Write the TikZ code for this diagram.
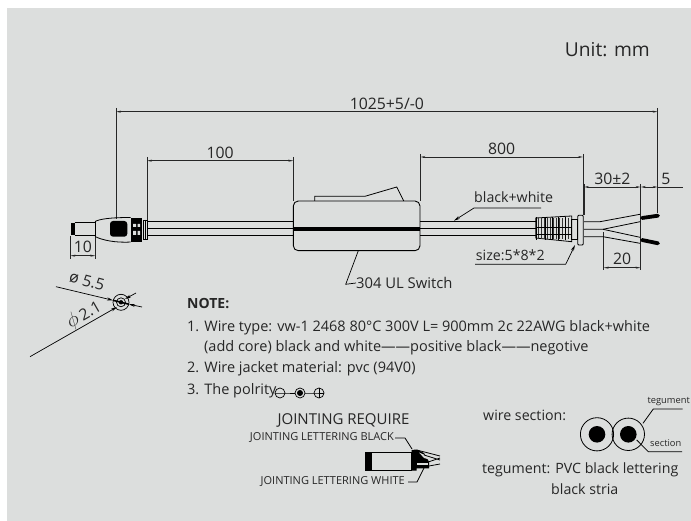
\documentclass[tikz,border=0pt]{standalone}
\usepackage{fontspec}
\setmainfont{Open Sans}
\usetikzlibrary{arrows.meta}
\definecolor{panelgray}{HTML}{DCDEDD}
\definecolor{inkgray}{HTML}{262626}
\tikzset{
  dimline/.style={inkgray,line width=.7pt,{Stealth[length=5pt,width=2pt]}-{Stealth[length=5pt,width=2pt]}},
  extline/.style={inkgray,line width=.8pt},
  wireline/.style={black,line width=.8pt},
  leader/.style={black,line width=.7pt,-{Stealth[length=6pt,width=3pt]}},
  txt/.style={inkgray,inner sep=0pt,font=\fontsize{14.2}{16}\selectfont},
  dimtxt/.style={inkgray,inner sep=0pt,font=\fontsize{15.8}{18}\selectfont},
  tiptxt/.style={inkgray,inner sep=0pt,font=\fontsize{9.3}{11}\selectfont}
}
\begin{document}
\begin{tikzpicture}[x=1pt,y=-1pt]
  \useasboundingbox (0,0) rectangle (691,521);
  \fill[panelgray] (7,8) rectangle (691,521);

  \coordinate (Ltop) at (116,108);   \coordinate (Lbot) at (116,219);
  \coordinate (Rtop) at (657.7,108); \coordinate (Rbot) at (657.7,213);
  \coordinate (Al) at (116,111.7);   \coordinate (Ar) at (657.7,111.7);
  \coordinate (Bl) at (147,160.7);   \coordinate (Br) at (293.3,160.7);
  \coordinate (Cl) at (420.3,157);   \coordinate (Cr) at (583,157);
  \coordinate (Dl) at (584,187);     \coordinate (Dr) at (640.7,187);
  \coordinate (E) at (657.7,187);    \coordinate (Eend) at (683,187);
  \coordinate (Fl) at (603.7,267.7); \coordinate (Fr) at (640.7,267.7);
  \coordinate (Gl) at (70.3,255.7);  \coordinate (Gr) at (95.3,255.7);

  \draw[extline] (Ltop) -- (Lbot);
  \draw[extline] (Rtop) -- (Rbot);
  \draw[extline] (147,157) -- (147,220);
  \draw[extline] (293.3,157) -- (293.3,201);
  \draw[extline] (420.3,154) -- (420.3,201);
  \draw[extline] (583,154) -- (583,215);
  \draw[extline] (584,184) -- (584,215);
  \draw[extline] (640.7,184) -- (640.7,270);
  \draw[extline] (603.7,232) -- (603.7,270);
  \draw[extline] (70.3,236) -- (70.3,259);
  \draw[extline] (95.3,236) -- (95.3,259);

  \draw[dimline] (Al) -- node[dimtxt,above=2pt] (lenall) {1025+5/-0} (Ar);
  \draw[dimline] (Bl) -- node[dimtxt,above=2pt] (lenplug) {100} (Br);
  \draw[dimline] (Cl) -- node[dimtxt,above=2pt] (lencord) {800} (Cr);
  \draw[dimline] (Dl) -- node[dimtxt,above=2pt] (lenstrip) {30±2} (Dr);
  \draw[dimline] (Dr) -- (E);
  \draw[extline] (E) -- (Eend);
  \node[dimtxt] (lentip) at (666,178.5) {5};
  \draw[dimline] (Fl) -- node[dimtxt,above=3pt] (lenbare) {20} (Fr);
  \draw[dimline] (Gl) -- node[dimtxt,above=3pt] (lenpin) {10} (Gr);

  \foreach \y in {221,228.3,235.7}{
    \draw[wireline] (147,\y) -- (293.3,\y);
    \draw[wireline] (420.3,\y) -- (536,\y);
  }

  \fill[black] (70.7,222.7) rectangle (74.7,235.5);
  \draw[wireline] (74.7,222.7) -- (95,222.7) (74.7,235.5) -- (95,235.5);
  \draw[wireline] (95,221.5) -- (95,236.5);
  \draw[wireline] (95,221.5) .. controls (100,219) and (110,217.5) .. (130.7,217.5);
  \draw[wireline] (95,236.5) .. controls (102,240) and (115,243) .. (130.7,242);
  \fill[black,rounded corners=3pt] (110,221) rectangle (127.3,236.7);
  \fill[black] (130.7,218.3) rectangle (141.7,241.7);
  \fill[panelgray] (133,224) rectangle (136,227) (137.5,224) rectangle (140,227)
                   (133,231) rectangle (136,235) (137.5,231) rectangle (140,235);
  \draw[wireline] (143,220) rectangle (147.3,239.3);
  \draw[wireline] (145,220) -- (145,239.3);

  \draw[black,line width=.9pt,rounded corners=5pt] (293.3,201) rectangle (420,250.7);
  \draw[black,line width=3.6pt] (293.3,229) -- (420,229);
  \draw[black,line width=.8pt] (314.7,201) -- (314.7,196.3) -- (365,196.3) -- (396.7,187) -- (403.7,201);

  \coordinate (swfoot) at (358.3,250.7);
  \coordinate (swknee) at (345.7,284.3);
  \node[txt,anchor=west,font=\fontsize{14.8}{16}\selectfont] (swlabel) at (356,283) {304 UL Switch};
  \draw[black,line width=.7pt] (swfoot) -- (swknee) -- (swlabel.west);

  \draw[wireline] (535.7,218) -- (571.7,216) -- (571.7,241.7) -- (535.7,238) -- cycle;
  \foreach \x in {538.5,541.5,...,570}{
    \draw[black!80,line width=.35pt] (\x,218) -- (\x,239.5);
  }
  \foreach \x in {536.5,545,552,558,565}{
    \draw[black,line width=.9pt] (\x,217.5) -- (\x,240);
  }
  \draw[black,line width=.6pt] (536,227.7) -- (571,227.7) (536,234) -- (571,234);
  \draw[wireline] (571.7,219) rectangle (577.7,239);
  \draw[wireline,rounded corners=1pt] (577.7,215.3) rectangle (583.3,245);

  \draw[wireline] (584,221.7) -- (600,221.7) -- (640,214.3);
  \draw[wireline] (584,229.3) -- (603,229.3) -- (640,221.7);
  \draw[wireline] (603,229.3) -- (640,237.3);
  \draw[wireline] (584,236.7) -- (603,236.7) -- (640,243.3);
  \draw[black,line width=3.8pt,line cap=round] (642,218) -- (658,215.7);
  \draw[black,line width=3.8pt,line cap=round] (642,240) -- (658,243.3);

  \node[txt,anchor=west] (bwlabel) at (474,197) {black+white};
  \coordinate (bwend) at (541,208);
  \coordinate (bwknee) at (474,208);
  \coordinate (bwtip) at (454,220.7);
  \draw[leader] (bwend) -- (bwknee) -- (bwtip);

  \node[txt,anchor=west] (sizelabel) at (475.7,255.7) {size:5*8*2};
  \coordinate (sizestart) at (475,264.3);
  \coordinate (sizeknee) at (565.7,264.3);
  \coordinate (sizetip) at (575,245);
  \draw[leader] (sizestart) -- (sizeknee) -- (sizetip);

  \node[txt,anchor=east,font=\fontsize{19.2}{22}\selectfont] (unit) at (650,50) {Unit: mm};

  \coordinate (sec) at (121,302.3);
  \draw[black,line width=.7pt] (sec) circle (8);
  \draw[black,line width=.7pt] (sec) circle (4.5);
  \fill[black] (sec) circle (2.2);
  \draw[black,line width=1.6pt] (113,300.3) -- (129,304.3);
  \coordinate (outa) at (56,286.7);
  \coordinate (outb) at (142,307);
  \coordinate (outc) at (113,300.3);
  \coordinate (outd) at (129,304.3);
  \draw[leader] (outa) -- (outc);
  \draw[leader] (outb) -- (outd);
  \coordinate (ina) at (30,356.7);
  \coordinate (inb) at (136,293);
  \coordinate (inc) at (117,307);
  \coordinate (ind) at (125,299);
  \draw[leader] (ina) -- (inc);
  \draw[leader] (inb) -- (ind);
  \node[dimtxt,rotate=-15] (dia55) at (87,281) {ø 5.5};
  \node[dimtxt,rotate=30] (dia21) at (84,315) {\scalebox{1.4}{$\phi$}\,2.1};

  \node[txt,anchor=west,font=\fontsize{14}{16}\bfseries\selectfont] (note) at (187,304) {NOTE:};
  \node[txt,anchor=west,font=\fontsize{14.5}{16}\selectfont] (noteone) at (187,327.7) {1. Wire type: vw-1 2468 80°C 300V L= 900mm 2c 22AWG black+white};
  \node[txt,anchor=west,font=\fontsize{14.5}{16}\selectfont] (noteonb) at (204,348) {(add core) black and white——positive black——negotive};
  \node[txt,anchor=west,font=\fontsize{14.5}{16}\selectfont] (notetwo) at (187,369) {2. Wire jacket material: pvc (94V0)};
  \node[txt,anchor=west,font=\fontsize{14.5}{16}\selectfont] (notethr) at (187,391) {3. The polrity};

  \node[draw=black,circle,line width=.7pt,minimum size=10pt,inner sep=0pt] (polneg) at (280,393) {};
  \node[draw=black,circle,line width=.7pt,minimum size=10pt,inner sep=0pt] (polmid) at (300,393) {};
  \node[draw=black,circle,line width=.7pt,minimum size=10pt,inner sep=0pt] (polpos) at (319,393) {};
  \fill[black] (polmid) circle (3);
  \draw[black,line width=.7pt] (polneg.west) -- (polneg.east) -- (polmid.west) (polmid.east) -- (polpos.west) -- (polpos.east);
  \draw[black,line width=.7pt] (polpos.north) -- (polpos.south);

  \node[txt,font=\fontsize{15}{17}\selectfont] (jointhead) at (343.5,420) {JOINTING REQUIRE};
  \node[tiptxt,anchor=east,font=\fontsize{11}{13}\selectfont] (jointblk) at (394,438) {JOINTING LETTERING BLACK};
  \node[tiptxt,anchor=east,font=\fontsize{11}{13}\selectfont] (jointwht) at (405,482) {JOINTING LETTERING WHITE};
  \coordinate (blkknee) at (405,438);
  \coordinate (blktip) at (412,449);
  \coordinate (whtknee) at (417,482);
  \coordinate (whttip) at (424,468);
  \draw[black,line width=.8pt] (jointblk.east) ++(1,0) -- (blkknee) -- (blktip);
  \draw[black,line width=.8pt] (jointwht.east) ++(3,0) -- (whtknee) -- (whttip);
  \fill[black] (365.7,452.7) rectangle (372,470.7);
  \draw[wireline] (365.7,452.7) rectangle (411.7,470.7);
  \fill[black] (411.7,450) -- (416.7,449.5) -- (424,453) -- (429,461.7) -- (429,468.3) -- (416.7,468.3) -- (416.7,470.7) -- (411.7,470.7) -- cycle;
  \fill[panelgray] (417,463) rectangle (428,465);
  \fill[panelgray] (419,452.5) -- (427,456) -- (431,460) -- (424,458) -- cycle;
  \draw[wireline] (416.7,450) -- (440,456);
  \draw[wireline] (424,455) -- (440,460) (429,461.7) -- (440,458) (429,466) -- (440,464);

  \node[txt,anchor=west] (seclabel) at (483,415) {wire section:};
  \coordinate (seca) at (597,434.3);
  \coordinate (secb) at (628.3,434.3);
  \draw[black,line width=.8pt] (seca) circle (16.6);
  \draw[black,line width=.8pt] (secb) circle (16.2);
  \fill[black] (seca) circle (8.3);
  \fill[black] (secb) circle (8.3);
  \node[tiptxt,anchor=east] (teglabel) at (690,401.5) {tegument};
  \node[tiptxt,anchor=west] (sectlabel) at (650,443) {section};
  \coordinate (tegfoot) at (643,423.3);
  \coordinate (tegknee) at (653.3,409);
  \coordinate (tegend) at (682.7,409);
  \coordinate (sectfoot) at (636.7,440);
  \coordinate (sectknee) at (648.3,451.7);
  \coordinate (sectend) at (682,451.7);
  \draw[black,line width=.8pt] (tegfoot) -- (tegknee) -- (tegend);
  \draw[black,line width=.8pt] (sectfoot) -- (sectknee) -- (sectend);

  \node[txt,anchor=west] (tegline) at (482,470) {tegument: PVC black lettering};
  \node[txt,anchor=west] (stria) at (551,489) {black stria};
\end{tikzpicture}
\end{document}
